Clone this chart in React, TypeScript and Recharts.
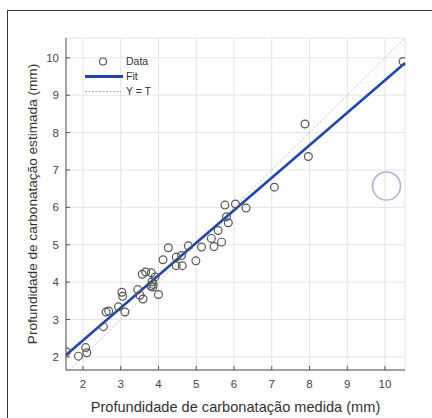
import { ScatterChart, Scatter, XAxis, YAxis, CartesianGrid, ReferenceLine, ReferenceDot } from "recharts";

// measured vs estimated carbonation depth (mm)
const measured = [
  1.56, 1.88, 2.07, 2.1, 2.54, 2.61, 2.68, 2.94, 3.03, 3.05, 3.11, 3.45, 3.51, 3.59, 3.57, 3.66,
  3.81, 3.83, 3.8, 3.86, 3.85, 3.91, 4.0, 4.12, 4.26, 4.47, 4.47, 4.63, 4.61, 4.79, 4.99, 5.14,
  5.4, 5.47, 5.58, 5.67, 5.8, 5.85, 5.76, 6.04, 6.32, 7.07, 7.88, 7.97, 10.48,
];
const estimated = [
  2.14, 2.02, 2.25, 2.11, 2.81, 3.2, 3.23, 3.34, 3.73, 3.62, 3.2, 3.8, 3.65, 3.55, 4.21, 4.27,
  4.25, 4.01, 3.89, 3.94, 3.87, 4.14, 3.67, 4.6, 4.92, 4.67, 4.44, 4.44, 4.71, 4.97, 4.57, 4.94,
  5.17, 4.95, 5.38, 5.07, 5.75, 5.59, 6.06, 6.09, 5.98, 6.54, 8.23, 7.36, 9.9,
];
const xTicks = [2, 3, 4, 5, 6, 7, 8, 9, 10];
const yTicks = [2, 3, 4, 5, 6, 7, 8, 9, 10];
const xDomain = [1.55, 10.53];
const yDomain = [1.65, 10.53];
const fitSlope = 0.87;
const fitIntercept = 0.7;
const outlierMark = { x: 10.04, y: 6.57 };

const points = measured.map((m, i) => ({ x: m, y: estimated[i] }));

const FONT = '"Liberation Sans", Arial, sans-serif';
const BLUE = "#1f47b0";
const tickStyle = { fontSize: 11.5, fill: "#444", fontFamily: FONT };

function Ring(props: any) {
  return <circle cx={props.cx} cy={props.cy} r={3.9} fill="none" stroke="#555" strokeWidth={1.2} />;
}

export default function App() {
  return (
    <div style={{ position: "absolute", left: 0, top: 0, width: 432, height: 418, overflow: "hidden", background: "#fff" }}>
      <div style={{ position: "absolute", left: 7, top: 10, width: 600, height: 600, border: "1.5px solid #333" }} />
      <div style={{ position: "absolute", left: 0, top: 0 }}>
        <ScatterChart width={432} height={418} margin={{ top: 38, right: 27, bottom: 0, left: 26 }} style={{ fontFamily: FONT }}>
          <CartesianGrid stroke="#e4e4e4" strokeWidth={1} />
          <XAxis
            type="number"
            dataKey="x"
            domain={xDomain}
            ticks={xTicks}
            allowDataOverflow
            height={48}
            tickSize={-4}
            tickMargin={14}
            tick={tickStyle}
            stroke="#555"
            label={{
              value: "Profundidade de carbonatação medida (mm)",
              position: "insideBottom",
              offset: 6,
              style: { fontSize: 14.6, fill: "#333", fontFamily: FONT },
            }}
          />
          <XAxis
            xAxisId="top"
            orientation="top"
            type="number"
            domain={xDomain}
            ticks={xTicks}
            allowDataOverflow
            height={0}
            tickSize={-4}
            tick={() => <g />}
            stroke="#555"
          />
          <YAxis
            type="number"
            dataKey="y"
            domain={yDomain}
            ticks={yTicks}
            allowDataOverflow
            width={40}
            tickSize={-4}
            tickMargin={11}
            tick={tickStyle}
            stroke="#555"
            label={{
              value: "Profundidade de carbonatação estimada (mm)",
              angle: -90,
              position: "insideLeft",
              offset: 11,
              dx: -5,
              style: { fontSize: 13.6, fill: "#333", fontFamily: FONT, textAnchor: "middle" },
            }}
          />
          <YAxis
            yAxisId="right"
            orientation="right"
            type="number"
            domain={yDomain}
            ticks={yTicks}
            allowDataOverflow
            width={0}
            tickSize={-4}
            tick={() => <g />}
            stroke="#555"
          />
          <ReferenceLine
            segment={[
              { x: yDomain[0], y: yDomain[0] },
              { x: xDomain[1], y: xDomain[1] },
            ]}
            stroke="#b5b5b5"
            strokeWidth={0.9}
            strokeDasharray="2 2"
            ifOverflow="visible"
          />
          <ReferenceLine
            segment={[
              { x: xDomain[0], y: fitSlope * xDomain[0] + fitIntercept },
              { x: xDomain[1], y: fitSlope * xDomain[1] + fitIntercept },
            ]}
            stroke={BLUE}
            strokeWidth={2.6}
            ifOverflow="visible"
          />
          <Scatter data={points} shape={Ring} isAnimationActive={false} />
          <ReferenceDot x={outlierMark.x} y={outlierMark.y} r={14} fill="none" stroke="#aeb4d8" strokeWidth={1.6} ifOverflow="visible" />
        </ScatterChart>
      </div>
      {/* legend, no box */}
      <div style={{ position: "absolute", left: 84, top: 54, fontFamily: FONT, fontSize: 10.5, color: "#333", lineHeight: "15px" }}>
        <div style={{ display: "flex", alignItems: "center", height: 15 }}>
          <svg width={40} height={15}>
            <circle cx={19} cy={7.5} r={3.5} fill="none" stroke="#555" strokeWidth={1.1} />
          </svg>
          <span style={{ marginLeft: 2 }}>Data</span>
        </div>
        <div style={{ display: "flex", alignItems: "center", height: 15 }}>
          <svg width={40} height={15}>
            <line x1={1} x2={39} y1={7.5} y2={7.5} stroke={BLUE} strokeWidth={3} />
          </svg>
          <span style={{ marginLeft: 2 }}>Fit</span>
        </div>
        <div style={{ display: "flex", alignItems: "center", height: 15 }}>
          <svg width={40} height={15}>
            <line x1={1} x2={37} y1={7.5} y2={7.5} stroke="#aaa" strokeWidth={1} strokeDasharray="2 1.5" />
          </svg>
          <span style={{ marginLeft: 2 }}>Y = T</span>
        </div>
      </div>
    </div>
  );
}
